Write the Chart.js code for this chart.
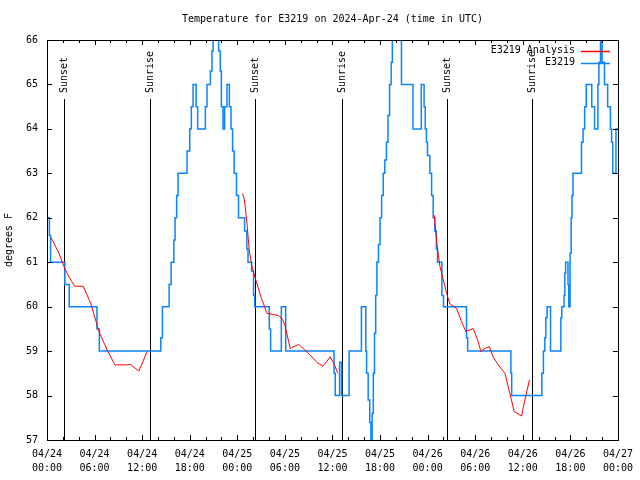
<!DOCTYPE html>
<html>
<head>
<meta charset="utf-8">
<script src="https://cdn.jsdelivr.net/npm/chart.js@4.4.1/dist/chart.umd.min.js"></script>
<style>
  body { margin: 0; background: #fff; }
  #wrap { width: 640px; height: 480px; }
</style>
</head>
<body>
<div id="wrap"><canvas id="myChart" width="640" height="480"></canvas></div>
<script>
// hours since 04/24 00:00 UTC
const obsHours = [0, 0.3, 0.45, 2.25, 2.8, 6.3, 6.6, 14.35, 14.55, 15.4, 15.65, 16.0, 16.15, 16.35, 16.53,
  17.66, 18.0, 18.2, 18.42, 18.8, 19.0, 19.97, 20.18, 20.6, 20.8, 20.95, 21.65, 21.85, 21.99, 22.2, 22.4,
  22.7, 23.0, 23.2, 23.4, 23.6, 23.9, 24.15, 24.92, 25.2, 25.35, 25.8, 26.05, 26.2, 28.03, 28.2, 29.55,
  30.1, 36.2, 36.35, 36.9, 37.15, 38.1, 39.65, 40.2, 40.3, 40.5, 40.7, 40.85, 41.0, 41.15, 41.3, 41.45,
  41.6, 41.8, 42.0, 42.2, 42.4, 42.6, 42.8, 43.0, 43.2, 43.4, 43.55, 44.7, 46.15, 47.2, 47.55, 47.7,
  47.85, 47.98, 48.28, 48.5, 48.7, 48.9, 49.1, 49.25, 49.8, 50.0, 52.9, 53.05, 58.5, 58.6, 62.4, 62.6,
  62.78, 62.9, 63.06, 63.5, 64.8, 64.92, 65.2, 65.3, 65.4, 65.7, 65.8, 65.96, 66.1, 66.2, 66.33, 67.4,
  67.6, 67.8, 68.0, 68.7, 69.05, 69.47, 69.6, 69.8, 70.0, 70.3, 70.7, 71.05, 71.2, 71.35, 71.75, 72];
const obsTemps = [62, 61.6, 61, 60.5, 60, 59.5, 59, 59.3, 60, 60.5, 61, 61.5, 62, 62.5, 63,
  63.5, 64, 64.5, 65, 64.5, 64, 64.5, 65, 65.3, 65.75, 66.5, 65.75, 65.3, 64.5, 64, 64.5,
  65, 64.5, 64, 63.5, 63, 62.5, 62, 61.7, 61.3, 61, 60.8, 60.25, 60, 59.5, 59, 60,
  59, 58.5, 58, 58.75, 58, 59, 60, 59, 58.5, 57.9, 57.4, 56.8, 57.6, 58.5, 59.4, 60.25,
  61, 61.4, 62, 62.5, 63, 63.3, 63.7, 64.3, 65, 65.5, 66.5, 65, 64, 65, 64.5, 64,
  63.7, 63.4, 63, 62.5, 62, 61.7, 61.3, 61, 60.25, 60, 59.3, 59, 58.5, 58, 58.5, 59,
  59.3, 59.75, 60, 59, 59.75, 60, 60.25, 60.75, 61, 60.5, 60, 61.2, 62, 62.5, 63, 63.7,
  64, 64.5, 65, 64.5, 64, 65, 65.5, 66, 65.5, 65, 64.5, 64, 63.7, 63, 64, 64];

// analysis curve, null = gap between runs
const anaHours = [0.5, 1.51, 2.14, 2.77, 3.48, 4.57, 5.5, 6.13, 6.55, 7.6, 8.56, 9.99, 10.53, 11.58, 12.63,
  18,
  24.67, 24.9, 25.22, 25.5, 25.84, 26.27, 26.9, 27.74, 29.2, 29.7, 30.05, 30.67, 31.72, 32.98, 34.03,
  34.8, 35.71, 36.25, 36.67,
  42,
  48.84, 49.0, 49.26, 49.56, 49.98, 50.39, 50.82, 51.65, 52.28, 52.83, 53.75, 54.3, 54.72, 55.22, 55.77,
  56.27, 56.9, 57.74, 58.16, 58.57, 58.91, 59.84, 60.26, 60.84];
const anaTemps = [61.56, 61.2, 60.9, 60.67, 60.46, 60.46, 60.08, 59.7, 59.44, 59.02, 58.69, 58.69, 58.7, 58.55, 58.99,
  null,
  62.55, 62.4, 61.88, 61.27, 60.9, 60.64, 60.26, 59.85, 59.8, 59.72, 59.55, 59.06, 59.15, 58.95, 58.75,
  58.66, 58.87, 58.69, 58.5,
  null,
  62.06, 61.72, 61.27, 60.9, 60.6, 60.3, 60.06, 59.96, 59.66, 59.44, 59.51, 59.25, 58.99, 59.06, 59.1,
  58.87, 58.69, 58.5, 58.2, 57.9, 57.64, 57.54, 57.9, 58.35];

const sunHours = [2.17, 13.0, 26.18, 37.15, 50.39, 61.22];
const sunLabels = ["Sunset", "Sunrise", "Sunset", "Sunrise", "Sunset", "Sunrise"];

const tickDates = ["04/24", "04/24", "04/24", "04/24", "04/25", "04/25", "04/25", "04/25", "04/26", "04/26", "04/26", "04/26", "04/27"];
const tickTimes = ["00:00", "06:00", "12:00", "18:00", "00:00", "06:00", "12:00", "18:00", "00:00", "06:00", "12:00", "18:00", "00:00"];

const FONT = "'DejaVu Sans Mono', monospace";
Chart.defaults.font.family = FONT;
Chart.defaults.font.size = 10;
Chart.defaults.color = "#000";

// gnuplot-ish frame: border, inward ticks, sun markers, title, key
const gnuFrame = {
  id: "gnuFrame",
  beforeDatasetsDraw(chart) {
    const { ctx, chartArea: a, scales: { x, y } } = chart;
    ctx.save();
    ctx.strokeStyle = "#000";
    ctx.lineWidth = 1;
    ctx.fillStyle = "#000";
    ctx.font = "10px " + FONT;
    sunHours.forEach((h, i) => {
      const px = Math.round(x.getPixelForValue(h)) + 0.5;
      ctx.beginPath();
      ctx.moveTo(px, a.top + 59);
      ctx.lineTo(px, a.bottom);
      ctx.stroke();
      ctx.save();
      ctx.translate(px, a.top + 53);
      ctx.rotate(-Math.PI / 2);
      ctx.textAlign = "left";
      ctx.textBaseline = "middle";
      ctx.fillText(sunLabels[i], 0, 0);
      ctx.restore();
    });
    ctx.restore();
  },
  afterDraw(chart) {
    const { ctx, chartArea: a, scales: { x, y } } = chart;
    ctx.save();
    ctx.strokeStyle = "#000";
    ctx.lineWidth = 1;
    ctx.beginPath();
    for (let h = 0; h <= 72; h += 2) {
      const px = Math.round(x.getPixelForValue(h)) + 0.5;
      const len = h % 6 === 0 ? 5 : 3;
      ctx.moveTo(px, a.bottom); ctx.lineTo(px, a.bottom - len);
      ctx.moveTo(px, a.top); ctx.lineTo(px, a.top + len);
    }
    for (let v = 57; v <= 66; v++) {
      const py = Math.round(y.getPixelForValue(v)) + 0.5;
      ctx.moveTo(a.left, py); ctx.lineTo(a.left + 5, py);
      ctx.moveTo(a.right, py); ctx.lineTo(a.right - 5, py);
    }
    ctx.stroke();
    ctx.strokeRect(Math.round(a.left) + 0.5, Math.round(a.top) + 0.5,
      Math.round(a.right - a.left), Math.round(a.bottom - a.top));

    ctx.fillStyle = "#000";
    ctx.font = "10px " + FONT;
    ctx.textAlign = "center";
    ctx.textBaseline = "middle";
    ctx.fillText("Temperature for E3219 on 2024-Apr-24 (time in UTC)", (a.left + a.right) / 2, 19);

    // key, top right
    ctx.textAlign = "right";
    chart.data.datasets.forEach((ds, i) => {
      const ky = 50.5 + i * 12;
      ctx.fillText(ds.label, 575, ky);
      ctx.strokeStyle = ds.borderColor;
      ctx.lineWidth = 1.5;
      ctx.beginPath();
      ctx.moveTo(581, Math.round(ky) + 0.5);
      ctx.lineTo(610, Math.round(ky) + 0.5);
      ctx.stroke();
    });
    ctx.restore();
  }
};

const ctx = document.getElementById("myChart");
const myChart = new Chart(ctx, {
  type: "line",
  data: {
    datasets: [
      {
        label: "E3219 Analysis",
        data: anaHours.map((h, i) => ({ x: h, y: anaTemps[i] })),
        borderColor: "#ff0000",
        borderWidth: 1,
        pointRadius: 0,
        spanGaps: false,
        fill: false,
        order: 0
      },
      {
        label: "E3219",
        data: obsHours.map((h, i) => ({ x: h, y: obsTemps[i] })),
        borderColor: "#0a84ff",
        borderWidth: 1.5,
        pointRadius: 0,
        stepped: true,
        fill: false,
        order: 1
      }
    ]
  },
  options: {
    responsive: false,
    animation: false,
    devicePixelRatio: 1,
    layout: { padding: { top: 40, right: 19, left: 0, bottom: 0 } },
    plugins: {
      legend: { display: false },
      title: { display: false },
      tooltip: { enabled: false }
    },
    scales: {
      x: {
        type: "linear",
        min: 0,
        max: 72,
        grid: { display: false, drawTicks: false },
        border: { display: false },
        ticks: {
          stepSize: 6,
          autoSkip: false,
          maxRotation: 0,
          padding: 7,
          font: { size: 10, lineHeight: 1.4 },
          callback: (v, i) => [tickDates[i], tickTimes[i]]
        },
        afterFit: (s) => { s.height = 40; }
      },
      y: {
        min: 57,
        max: 66,
        grid: { display: false, drawTicks: false },
        border: { display: false },
        ticks: { stepSize: 1, padding: 9, font: { size: 10 } },
        title: { display: true, text: "degrees F", font: { size: 10 }, padding: { top: 3, bottom: 0 } },
        afterFit: (s) => { s.width = 47; }
      }
    }
  },
  plugins: [gnuFrame]
});
</script>
</body>
</html>
